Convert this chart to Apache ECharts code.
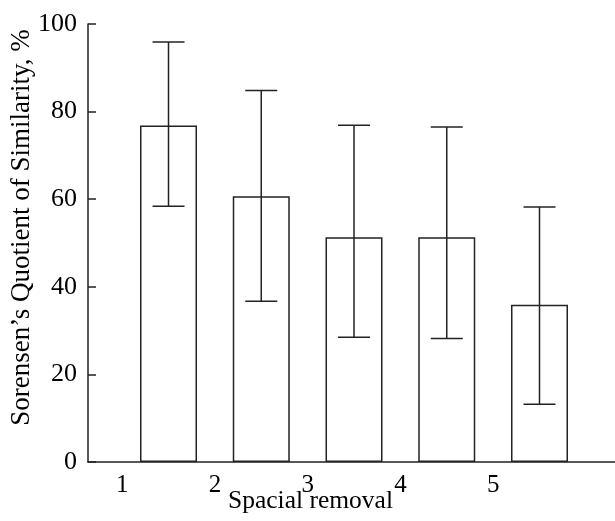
<!DOCTYPE html>
<html>
<head>
<meta charset="utf-8">
<script src="https://cdn.jsdelivr.net/npm/echarts@6/dist/echarts.min.js"></script>
<style>html,body{margin:0;padding:0;background:#fff}#c{width:615px;height:521px}</style>
</head>
<body>
<div id="c"></div>
<script>
var categories = [1, 2, 3, 4, 5];
var tickLabels = ['1', '2', '3', '4', '5'];
var meanValues = [76.8, 60.7, 51.3, 51.3, 35.9];
var upperValues = [95.9, 84.8, 76.9, 76.5, 58.2];
var lowerValues = [58.4, 36.7, 28.5, 28.2, 13.2];
var yTicks = [0, 20, 40, 60, 80, 100];
var labelPositions = [0.5, 1.5, 2.5, 3.5, 4.5];

var FONT = '"Liberation Serif", "Times New Roman", serif';
var INK = '#222';

var chart = echarts.init(document.getElementById('c'), null, {renderer: 'canvas'});
var barData = categories.map(function (c, i) { return [c, meanValues[i]]; });
var errData = categories.map(function (c, i) { return [c, lowerValues[i], upperValues[i]]; });

chart.setOption({
  animation: false,
  backgroundColor: '#fff',
  grid: {left: 88, right: 0, top: 24, bottom: 59, containLabel: false, outerBoundsMode: 'none'},
  xAxis: {
    type: 'value',
    min: 0.132,
    max: 5.814,
    name: 'Spacial removal',
    nameLocation: 'middle',
    nameGap: 26,
    nameMoveOverlap: false,
    nameTextStyle: {fontFamily: FONT, fontSize: 25.5, color: '#000', padding: [0, 82, 0, 0]},
    axisLine: {show: true, onZero: false, lineStyle: {color: INK, width: 1.5}},
    axisTick: {show: false},
    splitLine: {show: false},
    axisLabel: {
      customValues: labelPositions,
      fontFamily: FONT, fontSize: 25, color: '#000', margin: 11,
      formatter: function (v) {
        var idx = labelPositions.indexOf(Math.round(v * 10) / 10);
        return idx >= 0 ? tickLabels[idx] : '';
      }
    }
  },
  yAxis: {
    type: 'value',
    min: 0, max: 100, interval: 20,
    name: "Sorensen’s Quotient of Similarity, %",
    nameLocation: 'middle',
    nameGap: 53,
    nameMoveOverlap: false,
    nameTextStyle: {fontFamily: FONT, fontSize: 27, color: '#000', padding: [0, 0, 0, 31]},
    axisLine: {show: true, lineStyle: {color: INK, width: 1.5}},
    axisTick: {show: true, inside: true, length: 8, lineStyle: {color: INK, width: 1.5}},
    splitLine: {show: false},
    axisLabel: {fontFamily: FONT, fontSize: 26, color: '#000', margin: 11,
      formatter: function (v) { return yTicks.indexOf(v) >= 0 ? String(v) : ''; }}
  },
  series: [
    {
      type: 'bar',
      data: barData,
      barWidth: 57,
      itemStyle: {color: '#fff', borderColor: INK, borderWidth: 1.5},
      z: 2
    },
    {
      type: 'custom',
      data: errData,
      z: 3,
      renderItem: function (params, api) {
        var x = api.value(0);
        var lo = api.coord([x, api.value(1)]);
        var hi = api.coord([x, api.value(2)]);
        var half = 16;
        var style = {stroke: INK, lineWidth: 1.5, fill: null};
        return {
          type: 'group',
          children: [
            {type: 'line', shape: {x1: lo[0], y1: lo[1], x2: hi[0], y2: hi[1]}, style: style},
            {type: 'line', shape: {x1: hi[0] - half, y1: hi[1], x2: hi[0] + half, y2: hi[1]}, style: style},
            {type: 'line', shape: {x1: lo[0] - half, y1: lo[1], x2: lo[0] + half, y2: lo[1]}, style: style}
          ]
        };
      }
    }
  ]
});
</script>
</body>
</html>
